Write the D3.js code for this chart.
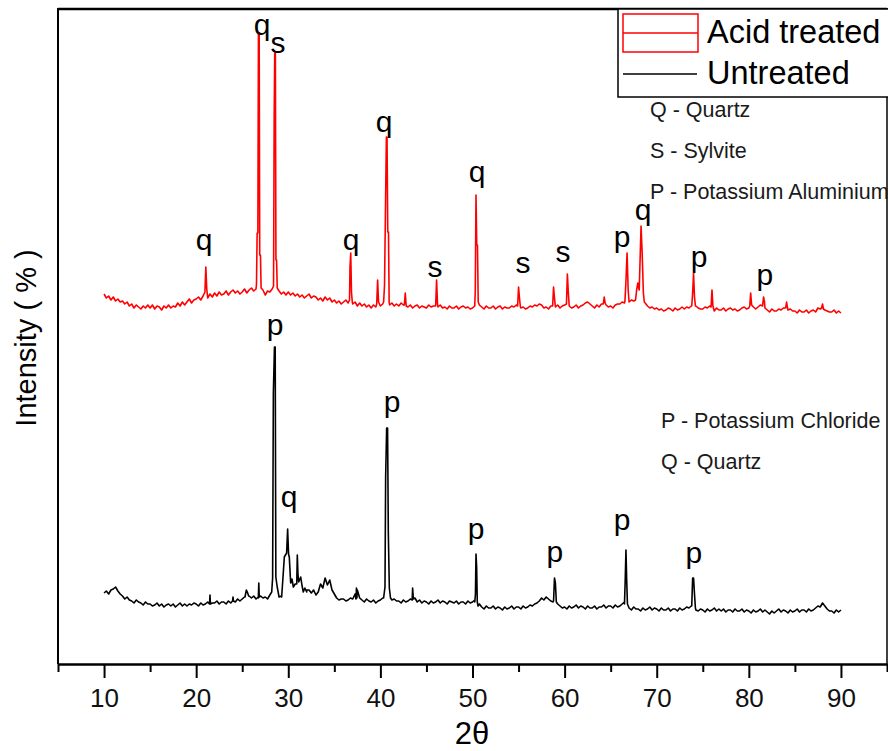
<!DOCTYPE html>
<html>
<head>
<meta charset="utf-8">
<script src="https://cdn.jsdelivr.net/npm/d3@7"></script>
<style>
  body { margin: 0; background: #fff; }
  svg { display: block; font-family: "Liberation Sans", Arial, sans-serif; }
</style>
</head>
<body>
<div id="chart"></div>
<script>
// scan settings (2theta, degrees)
const scanStart = 10;
const scanStep = 0.25;

// acid treated background, one value per step from 10 to 90
const acidBase = [
  370,366,368,364, 367,363,365,362, 363,360,362,358, 360,356,359,357, 355,358,356,359,
  356,359,355,358, 357,354,358,356, 359,356,358,357, 361,358,362,359, 362,365,361,364,
  365,367,364,368, 369,366,370,367, 371,368,372,369, 370,373,369,372, 374,371,373,370,
  372,375,371,374, 376,373,375,372, 371,374,369,373, 372,375,371,374, 373,370,372,369,
  372,369,371,368, 370,367,369,366, 368,370,366,368, 367,364,366,363, 367,364,366,362,
  364,361,363,360, 362,364,361,363, 360,362,358,361, 358,360,357,359, 356,359,357,358,
  358,360,359,361, 359,361,358,360, 358,361,359,360, 357,359,356,358, 359,356,358,357,
  356,359,357,358, 358,357,359,356, 357,355,358,356, 356,358,355,357, 358,356,357,355,
  356,358,357,359, 357,355,358,356, 356,358,355,357, 358,355,357,356, 356,358,357,359,
  358,356,357,355, 356,358,357,359, 358,360,359,356, 357,355,358,359, 357,359,356,358,
  359,357,358,356, 357,359,356,358, 359,361,362,360, 358,356,359,357, 360,361,359,357,
  358,356,359,360, 360,362,361,363, 362,364,363,365, 362,364,360,361, 358,356,357,355,
  356,354,355,353, 354,356,355,353, 356,354,355,357, 355,357,356,358, 357,358,356,355,
  355,357,356,358, 355,353,356,354, 354,356,353,355, 356,354,355,353, 354,356,357,355,
  356,358,357,355, 357,359,358,356, 354,352,355,353, 353,355,354,356, 356,354,355,353,
  353,351,354,352, 352,354,351,353, 354,352,356,355, 357,354,353,352, 352,354,351,353,
  351
];

// acid treated peaks [2theta, intensity]
const acidPeaks = [
  [[20.95,372],[21.05,397],[21.15,375]],
  [[26.55,380],[26.62,431],[26.7,431],[26.76,631],[26.84,631],[26.9,409],[26.98,409],[27.05,376]],
  [[28.4,378],[28.47,547],[28.53,611],[28.6,611],[28.66,404],[28.73,404],[28.8,376]],
  [[36.65,364],[36.7,397],[36.78,411],[36.86,372],[36.95,362]],
  [[39.6,360],[39.7,384],[39.8,362]],
  [[40.35,362],[40.45,379],[40.55,454],[40.65,527],[40.72,527],[40.8,432],[40.88,432],[40.95,362]],
  [[42.6,359],[42.7,371],[42.8,358]],
  [[46.0,358],[46.1,384],[46.2,360]],
  [[50.25,360],[50.3,372],[50.38,469],[50.46,419],[50.54,419],[50.62,362]],
  [[54.9,358],[55.0,377],[55.1,366],[55.2,357]],
  [[58.7,358],[58.8,377],[58.9,366],[59.0,357]],
  [[60.2,360],[60.3,390],[60.4,372],[60.5,358]],
  [[64.2,360],[64.3,367],[64.4,361]],
  [[66.55,363],[66.65,381],[66.78,411],[66.9,374],[67.0,362]],
  [[67.7,364],[67.82,374],[67.95,381],[68.1,374],[68.3,438],[68.42,411],[68.55,371],[68.65,362]],
  [[73.8,358],[73.9,371],[74.0,391],[74.1,367],[74.2,358]],
  [[75.9,357],[76.0,374],[76.1,358]],
  [[80.1,358],[80.2,371],[80.3,359]],
  [[81.5,359],[81.6,367],[81.7,362]],
  [[84.0,356],[84.1,362],[84.2,356]],
  [[87.9,356],[88.0,360],[88.1,355]]
];

// untreated background
const rawBase = [
  71,73,70,74, 75,77,73,70, 68,65,67,64, 63,61,64,62, 61,59,62,60,
  60,58,59,61, 58,60,57,59, 60,58,60,57, 59,61,58,60, 58,60,59,61,
  60,58,61,59, 60,62,59,61, 61,63,60,62, 62,60,63,61, 64,62,65,63,
  65,67,70,68, 66,68,65,67, 68,66,67,65, 69,72,70,68, 67,68,70,72,
  100,90,80,85, 90,80,85,78, 72,74,71,74, 69,72,80,76, 86,79,84,74,
  70,66,64,65, 65,63,64,66, 65,70,74,66, 64,62,65,63, 62,64,61,63,
  64,66,70,72, 68,64,65,63, 63,61,64,62, 63,65,70,66, 62,64,61,63,
  62,60,63,61, 62,64,61,63, 62,60,63,62, 61,63,60,62, 62,60,63,61,
  62,64,66,60, 57,55,58,56, 56,58,55,57, 56,54,57,55, 56,58,55,57,
  57,55,58,56, 57,59,58,60, 61,63,66,64, 67,65,63,62, 64,60,58,56,
  57,55,58,56, 57,59,56,58, 57,55,58,56, 56,58,55,57, 57,59,56,58,
  58,56,59,57, 58,60,62,64, 56,54,57,55, 55,53,56,54, 55,57,54,56,
  55,53,56,54, 54,56,53,55, 55,53,56,54, 55,57,56,58, 58,54,53,55,
  54,52,55,53, 54,56,53,55, 53,55,52,54, 54,52,55,53, 53,55,52,54,
  53,51,54,52, 53,55,52,54, 52,50,53,51, 53,55,52,54, 53,51,54,52,
  53,55,52,54, 54,52,55,53, 54,56,58,57, 61,58,55,53, 53,51,54,52,
  54
];

const rawPeaks = [
  [[21.45,60],[21.5,69],[21.55,60]],
  [[23.95,63],[24.0,67],[24.05,63]],
  [[25.3,67],[25.45,74],[25.55,72],[25.7,68]],
  [[26.75,66],[26.8,81],[26.85,67]],
  [[28.2,72],[28.3,86],[28.38,271],[28.5,317],[28.58,317],[28.65,87],[28.8,77],[29.0,67]],
  [[29.28,67],[29.45,90],[29.57,107],[29.82,111],[29.93,135],[30.03,110],[30.11,107],[30.26,81],
   [30.4,85],[30.55,77],[30.75,80],[30.92,80],[30.98,109],[31.05,90],[31.13,82],[31.35,87],
   [31.5,78],[31.63,72],[31.8,76],[32.0,74]],
  [[37.35,65],[37.4,76],[37.45,66]],
  [[40.35,66],[40.5,77],[40.57,187],[40.68,236],[40.78,236],[40.86,132],[40.97,76],[41.1,66]],
  [[43.45,64],[43.5,76],[43.58,65]],
  [[50.25,62],[50.32,70],[50.38,110],[50.45,97],[50.52,62],[50.6,58]],
  [[58.8,63],[58.9,86],[59.0,81],[59.1,62]],
  [[66.5,60],[66.58,84],[66.66,114],[66.74,84],[66.82,60]],
  [[73.8,58],[73.9,86],[74.0,86],[74.1,70],[74.2,56]]
];

// peak letters [2theta, intensity at text baseline, letter]
const acidLabels = [
  [20.85,414,"q"],[27.15,629,"q"],[28.88,611,"s"],[36.81,414,"q"],[40.39,532,"q"],
  [45.93,387,"s"],[50.49,482,"q"],[55.48,391,"s"],[59.82,402,"s"],[66.23,417,"p"],
  [68.51,444,"q"],[74.59,397,"p"],[81.75,379,"p"]
];
const rawLabels = [
  [28.56,329,"p"],[30.08,157,"q"],[41.26,252,"p"],[50.38,125,"p"],
  [58.95,102,"p"],[66.23,134,"p"],[74.04,101,"p"]
];

const majorTicks = [10,20,30,40,50,60,70,80,90];
const minorTicks = [5,15,25,35,45,55,65,75,85,95];
const acidKey = ["Q - Quartz","S - Sylvite","P - Potassium Aluminium"];
const rawKey = ["P - Potassium Chloride","Q - Quartz"];

function mergeScan(values, peaks) {
    const pts = values.map((v, i) => [scanStart + i * scanStep, v]);
    // drop background points that fall inside a peak
    const kept = pts.filter(p => !peaks.some(pk => p[0] > pk[0][0] && p[0] < pk[pk.length - 1][0]));
    return kept.concat(peaks.flat()).sort((a, b) => a[0] - b[0]);
}

const margin = { top: 8, right: 1, bottom: 87, left: 58 },
    width = 888 - margin.left - margin.right,
    height = 751 - margin.top - margin.bottom;

const svgRoot = d3.select("#chart")
    .append("svg")
    .attr("width", 888)
    .attr("height", 751);

const svg = svgRoot.append("g")
    .attr("transform", `translate(${margin.left},${margin.top})`);

const x = d3.scaleLinear().domain([5, 95]).range([0, width]);
const y = d3.scaleLinear().domain([0, 656]).range([height, 0]);

const line = d3.line()
    .x(d => x(d[0]))
    .y(d => y(d[1]));

svg.append("path")
    .datum(mergeScan(acidBase, acidPeaks))
    .attr("fill", "none")
    .attr("stroke", "#ff0000")
    .attr("stroke-width", 1.6)
    .attr("stroke-linejoin", "round")
    .attr("d", line);

svg.append("path")
    .datum(mergeScan(rawBase, rawPeaks))
    .attr("fill", "none")
    .attr("stroke", "#000")
    .attr("stroke-width", 1.6)
    .attr("stroke-linejoin", "round")
    .attr("d", line);

// peak letters
svg.selectAll(".acid-label")
    .data(acidLabels)
    .enter()
    .append("text")
    .attr("x", d => x(d[0]))
    .attr("y", d => y(d[1]))
    .attr("text-anchor", "middle")
    .style("font-size", "30px")
    .text(d => d[2]);

svg.selectAll(".raw-label")
    .data(rawLabels)
    .enter()
    .append("text")
    .attr("x", d => x(d[0]))
    .attr("y", d => y(d[1]))
    .attr("text-anchor", "middle")
    .style("font-size", "30px")
    .text(d => d[2]);

// axes
const xAxis = svg.append("g")
    .attr("transform", `translate(0,${height})`)
    .call(d3.axisBottom(x).tickValues(majorTicks).tickSize(14).tickSizeOuter(0).tickPadding(11));
xAxis.selectAll("text").style("font-size", "26px").attr("fill", "#111");

svg.append("g")
    .attr("transform", `translate(0,${height})`)
    .call(d3.axisBottom(x).tickValues(minorTicks).tickSize(8).tickSizeOuter(0).tickFormat(""));

svg.selectAll(".domain, .tick line")
    .attr("stroke", "#000")
    .attr("stroke-width", 2);

// frame
svg.append("line").attr("x1", 0).attr("x2", width).attr("y1", 1).attr("y2", 1)
    .attr("stroke", "#000").attr("stroke-width", 2.5);
svg.append("line").attr("x1", 0).attr("x2", 0).attr("y1", 0).attr("y2", height)
    .attr("stroke", "#000").attr("stroke-width", 2);
svg.append("line").attr("x1", width).attr("x2", width).attr("y1", 0).attr("y2", height)
    .attr("stroke", "#000").attr("stroke-width", 1.5);

// axis labels
svgRoot.append("text")
    .attr("x", 472)
    .attr("y", 744)
    .attr("text-anchor", "middle")
    .style("font-size", "31px")
    .text("2θ");

svgRoot.append("text")
    .attr("transform", "translate(36,338) rotate(-90)")
    .attr("text-anchor", "middle")
    .style("font-size", "29px")
    .text("Intensity ( % )");

// legend
const legend = svgRoot.append("g");
legend.append("rect")
    .attr("x", 618).attr("y", 9)
    .attr("width", 300).attr("height", 88)
    .attr("fill", "#fff")
    .attr("stroke", "#000")
    .attr("stroke-width", 1.5);

legend.append("rect")
    .attr("x", 623).attr("y", 14)
    .attr("width", 75).attr("height", 38)
    .attr("fill", "none")
    .attr("stroke", "#ff0000")
    .attr("stroke-width", 1.5);
legend.append("line")
    .attr("x1", 623).attr("x2", 698).attr("y1", 33).attr("y2", 33)
    .attr("stroke", "#ff0000").attr("stroke-width", 1.5);
legend.append("text")
    .attr("x", 707).attr("y", 43)
    .style("font-size", "32.5px")
    .text("Acid treated");

legend.append("line")
    .attr("x1", 623).attr("x2", 697).attr("y1", 74).attr("y2", 74)
    .attr("stroke", "#000").attr("stroke-width", 1.5);
legend.append("text")
    .attr("x", 707).attr("y", 84)
    .style("font-size", "32.5px")
    .text("Untreated");

// phase keys
svgRoot.selectAll(".acid-key")
    .data(acidKey)
    .enter()
    .append("text")
    .attr("x", 650)
    .attr("y", (d, i) => 117 + i * 41)
    .style("font-size", "21.5px")
    .attr("fill", "#1a1a1a")
    .text(d => d);

svgRoot.selectAll(".raw-key")
    .data(rawKey)
    .enter()
    .append("text")
    .attr("x", 661)
    .attr("y", (d, i) => 428 + i * 41)
    .style("font-size", "21.5px")
    .attr("fill", "#1a1a1a")
    .text(d => d);
</script>
</body>
</html>
